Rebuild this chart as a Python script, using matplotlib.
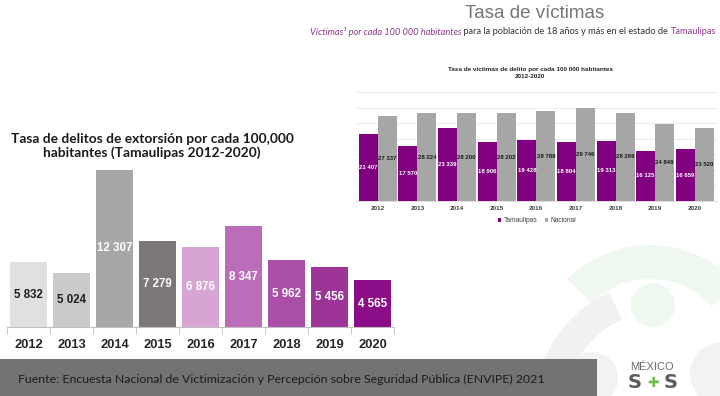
import matplotlib
matplotlib.use('Agg')
import matplotlib.pyplot as plt
from matplotlib.patches import Rectangle, Wedge, Circle, Patch

W, H = 720, 396

years = ['2012', '2013', '2014', '2015', '2016', '2017', '2018', '2019', '2020']
extorsion = [5832, 5024, 12307, 7279, 6876, 8347, 5962, 5456, 4565]
ext_labels = ['5 832', '5 024', '12 307', '7 279', '6 876', '8 347', '5 962', '5 456', '4 565']
ext_colors = ['#e1e0e1', '#cbcacb', '#a9a6a9', '#7e777a', '#d7a5d4',
              '#bc6dba', '#aa4ea7', '#9d3599', '#8b0d87']
ext_text_colors = ['#1e1e1e', '#1e1e1e', 'white', 'white', 'white',
                   'white', 'white', 'white', 'white']

tamaulipas = [21407, 17570, 23339, 18906, 19428, 18804, 19313, 16125, 16659]
nacional = [27337, 28224, 28200, 28202, 28788, 29746, 28269, 24849, 23520]
tam_labels = ['21 407', '17 570', '23 339', '18 906', '19 428', '18 804', '19 313', '16 125', '16 659']
nac_labels = ['27 337', '28 224', '28 200', '28 202', '28 788', '29 746', '28 269', '24 849', '23 520']

fig = plt.figure(figsize=(7.2, 3.96), dpi=100)
fig.patch.set_facecolor('white')


def px_axes(x0, y0, x1, y1, **kw):
    return fig.add_axes([x0 / W, 1 - y1 / H, (x1 - x0) / W, (y1 - y0) / H], **kw)


def fx(x):
    return x / W


def fy(y):
    return 1 - y / H


# ---------- background decorations ----------
bg = px_axes(0, 0, W, H)
bg.set_xlim(0, W)
bg.set_ylim(H, 0)
bg.axis('off')
bg.set_zorder(-5)
bg.add_patch(Wedge((665, 412), 132, 175, 245, width=30, facecolor='#f1f1f1', edgecolor='none'))
bg.add_patch(Wedge((650, 362), 117, 225, 318, width=34, facecolor='#eff8ee', edgecolor='none'))
bg.add_patch(Circle((653, 305), 22, facecolor='#eff8ee', edgecolor='none'))
bg.add_patch(Circle((592, 378), 26, facecolor='#f2f2f2', edgecolor='none'))
bg.add_patch(Circle((722, 374), 32, facecolor='#f2f2f2', edgecolor='none'))
# footer box
bg.add_patch(Rectangle((0, 359), 597, 37, facecolor='#737373', edgecolor='none'))
bg.text(18, 379, 'Fuente: Encuesta Nacional de Victimización y Percepción sobre Seguridad Pública (ENVIPE) 2021',
        fontsize=8.9, family='Lato', color='#1c1c1c', va='center', ha='left')
# logo
bg.text(652, 367, 'MÉXICO', fontsize=8, family='Liberation Sans', color='#6a6a6a',
        ha='center', va='center')
bg.text(635, 383, 'S', fontsize=14, family='DejaVu Sans', weight='bold', color='#5c5c5c', ha='center', va='center')
bg.text(653, 383, '✚', fontsize=10, family='DejaVu Sans', weight='bold', color='#6cbf4b', ha='center', va='center')
bg.text(671, 383, 'S', fontsize=14, family='DejaVu Sans', weight='bold', color='#5c5c5c', ha='center', va='center')

# ---------- left chart ----------
ax = px_axes(7, 165, 394, 327)
y0 = 1258
ax.set_xlim(-0.5, 8.5)
ax.set_ylim(y0, 12658)
xs = list(range(len(years)))
ax.bar(xs, [v - y0 for v in extorsion], bottom=y0, width=0.87, color=ext_colors, zorder=2)
for i, v in enumerate(extorsion):
    ax.text(i, (v + y0) / 2, ext_labels[i], ha='center', va='center', fontsize=8.3,
            family='Liberation Sans', weight='bold', color=ext_text_colors[i])
    ax.text(i, -18 / 162, years[i], transform=ax.get_xaxis_transform(), ha='center', va='center',
            fontsize=9.3, family='Liberation Sans', weight='bold', color='#262626')
for s in ['top', 'right', 'left']:
    ax.spines[s].set_visible(False)
ax.spines['bottom'].set_color('#bfbfbf')
ax.set_yticks([])
ax.set_xticks([])
ax.set_xticks([i - 0.5 for i in range(len(years) + 1)], minor=True)
ax.tick_params(axis='x', which='minor', length=5, color='#bfbfbf', labelbottom=False)
ax.patch.set_alpha(0)

fig.text(fx(152), fy(146), 'Tasa de delitos de extorsión por cada 100,000\nhabitantes (Tamaulipas 2012-2020)',
         ha='center', va='center', fontsize=9.9, family='Lato', weight='bold', color='#1a1a1a',
         linespacing=1.2)

# ---------- right chart ----------
fig.text(fx(535), fy(13), 'Tasa de víctimas', ha='center', va='center', fontsize=13.5,
         family='Liberation Sans', color='#767676')

# subtitle, built right-to-left from consecutive pieces
pieces = [
    ('Víctimas¹ por cada 100 000 habitantes', '#8a3a8c', 'italic'),
    (' para la población de 18 años y más en el estado de ', '#333333', 'normal'),
    ('Tamaulipas', '#8a3a8c', 'normal'),
]
fig.canvas.draw()
renderer = fig.canvas.get_renderer()
xcur = 716
for txt, col, sty in reversed(pieces):
    t = fig.text(fx(xcur), fy(32), txt, ha='right', va='center', fontsize=6.7, family='Lato',
                 color=col, style=sty)
    bb = t.get_window_extent(renderer=renderer)
    xcur -= bb.width

fig.text(fx(530), fy(73), 'Tasa de víctimas de delito por cada 100 000 habitantes\n2012-2020',
         ha='center', va='center', fontsize=4.6, family='Liberation Sans', weight='bold',
         color='#262626', linespacing=1.3)

ax2 = px_axes(356, 92, 716.6, 201)
ax2.set_xlim(-0.55, 8.55)
ax2.set_ylim(0, 35000)
bw = 0.48
ax2.bar([i - bw / 2 for i in xs], tamaulipas, width=bw, color='#800080', zorder=2, label='Tamaulipas')
ax2.bar([i + bw / 2 for i in xs], nacional, width=bw, color='#a6a6a6', zorder=2, label='Nacional')
for i in xs:
    ax2.text(i - bw / 2, tamaulipas[i] / 2, tam_labels[i], ha='center', va='center', fontsize=4.3,
             family='Liberation Sans', weight='bold', color='white', zorder=3)
    ax2.text(i + bw / 2, nacional[i] / 2, nac_labels[i], ha='center', va='center', fontsize=4.3,
             family='Liberation Sans', weight='bold', color='#1a1a1a', zorder=3)
    ax2.text(i, -7 / 109, years[i], transform=ax2.get_xaxis_transform(), ha='center', va='center',
             fontsize=4.6, family='Liberation Sans', weight='bold', color='#404040')
ax2.set_yticks(range(5000, 35001, 5000))
ax2.yaxis.grid(True, color='#ececec', linewidth=0.7, zorder=0)
ax2.set_axisbelow(True)
ax2.tick_params(axis='y', length=0, labelleft=False)
ax2.set_xticks([])
for s in ['top', 'right', 'left']:
    ax2.spines[s].set_visible(False)
ax2.spines['bottom'].set_color('#d9d9d9')
ax2.spines['bottom'].set_linewidth(0.6)
ax2.patch.set_alpha(0)

handles = [Patch(facecolor='#800080', label='Tamaulipas'), Patch(facecolor='#a6a6a6', label='Nacional')]
leg = fig.legend(handles=handles, loc='center', bbox_to_anchor=(fx(537), fy(221)), ncol=2,
                 frameon=False, prop={'family': 'Liberation Sans', 'size': 4.8},
                 handlelength=0.5, handleheight=0.5, handletextpad=0.3, columnspacing=1.2)
for t in leg.get_texts():
    t.set_color('#404040')

fig.savefig('out.png', dpi=100, facecolor='white')
